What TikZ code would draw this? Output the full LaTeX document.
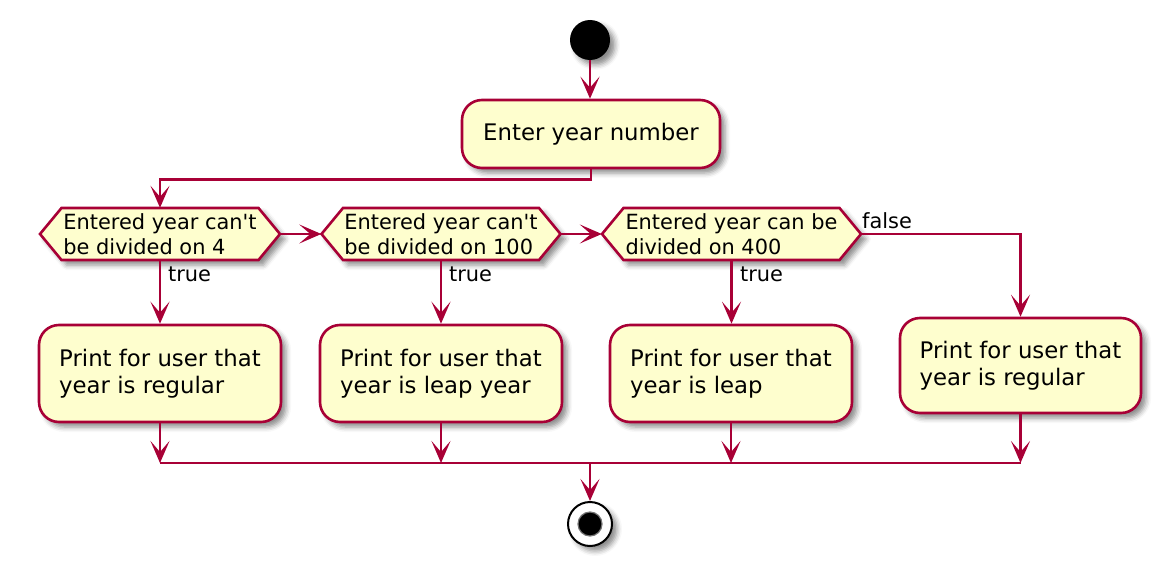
\documentclass[tikz,border=0pt]{standalone}
\usepackage{fontspec}
\setmainfont{DejaVu Sans}
\usetikzlibrary{arrows.meta,shadows.blur,calc}
\definecolor{puline}{HTML}{A80036}
\definecolor{pufill}{HTML}{FEFECE}
% hexagon outline of a decision: #1 centre coordinate, #2 half inner width
\newcommand\drawdechex[2]{%
  \path[hexa] ($(#1)+(-#2-21.5,0)$) -- ($(#1)+(-#2,-26)$) -- ($(#1)+(#2,-26)$)
    -- ($(#1)+(#2+21.5,0)$) -- ($(#1)+(#2,26)$) -- ($(#1)+(-#2,26)$) -- cycle;}
\begin{document}
\begin{tikzpicture}[x=1pt,y=-1pt,
  shad/.style={blur shadow={shadow xshift=5pt,shadow yshift=-5pt,shadow blur radius=5pt,shadow opacity=45}},
  conn/.style={draw=puline,line width=2.6pt},
  arr/.style={conn,-{Stealth[length=22pt,width=19pt,inset=11pt]}},
  actbox/.style={draw=puline,fill=pufill,line width=2.6pt,rounded corners=20pt,
    minimum width=242pt,minimum height=97pt,align=left,inner sep=0pt,
    font=\fontsize{22.8pt}{27.4pt}\selectfont,shad},
  dectext/.style={inner sep=0pt,minimum height=52pt,align=left,
    font=\fontsize{20.9pt}{25pt}\selectfont},
  hexa/.style={draw=puline,fill=pufill,line width=2.6pt,shad},
  lbl/.style={inner sep=0pt,anchor=west,font=\fontsize{20.9pt}{25pt}\selectfont},
  startdot/.style={circle,fill=black,minimum size=40pt,inner sep=0pt,shad},
  endring/.style={circle,draw=black,fill=white,line width=2pt,minimum size=44pt,inner sep=0pt,shad},
  enddot/.style={circle,fill=black,draw=black!55,line width=1.2pt,minimum size=24pt,inner sep=0pt}
]
\useasboundingbox (0,0) rectangle (1174,578);

% nodes
\node[startdot] (start) at (590,40) {};
\node[actbox,minimum width=258pt,minimum height=68pt] (enter) at (591,134) {Enter year number};

\coordinate (c1) at (160,234);
\coordinate (c2) at (441,234);
\coordinate (c3) at (731.5,234);
\drawdechex{c1}{98.5}
\drawdechex{c2}{98}
\drawdechex{c3}{108}
\node[dectext,minimum width=197pt] (d1) at (c1) {Entered year can\textquotesingle t\\be divided on 4};
\node[dectext,minimum width=196pt] (d2) at (c2) {Entered year can\textquotesingle t\\be divided on 100};
\node[dectext,minimum width=216pt] (d3) at (c3) {Entered year can be\\divided on 400};

\coordinate (d1r) at ($(d1.east)+(21.5,0)$);
\coordinate (d2l) at ($(d2.west)+(-21.5,0)$);
\coordinate (d2r) at ($(d2.east)+(21.5,0)$);
\coordinate (d3l) at ($(d3.west)+(-21.5,0)$);
\coordinate (d3r) at ($(d3.east)+(21.5,0)$);

\node[actbox] (b1) at (160,373.5) {Print for user that\\year is regular};
\node[actbox] (b2) at (441,373.5) {Print for user that\\year is leap year};
\node[actbox] (b3) at (731,373.5) {Print for user that\\year is leap};
\node[actbox,minimum width=241pt,minimum height=95pt] (b4) at (1020.5,365.5) {Print for user that\\year is regular};

\node[endring] (end) at (590,524) {};
\node[enddot] (endin) at (end.center) {};

\node[lbl] (t1) at (168,274) {true};
\node[lbl] (t2) at (449,274) {true};
\node[lbl] (t3) at (740,274) {true};
\node[lbl] (f3) at (862,221) {false};

\coordinate (mL) at (160,463);
\coordinate (mR) at (1020.5,463);

% connectors
\draw[arr] (start.south) -- (start.south |- enter.north);
\draw[arr] (enter.south) -- ++(0,10) -| (d1.north);
\draw[arr] (d1r) -- (d2l);
\draw[arr] (d2r) -- (d3l);
\draw[arr] (d3r) -| (b4.north);
\draw[arr] (d1.south) -- (b1.north);
\draw[arr] (d2.south) -- (b2.north);
\draw[arr] (d3.south) -- (d3.south |- b3.north);
\draw[arr] (b1.south) -- (b1.south |- mL);
\draw[arr] (b2.south) -- (b2.south |- mL);
\draw[arr] (b3.south) -- (b3.south |- mL);
\draw[arr] (b4.south) -- (b4.south |- mL);
\draw[conn] (mL) -- (mR);
\draw[arr] (end.north |- mL) -- (end.north);
\end{tikzpicture}
\end{document}
